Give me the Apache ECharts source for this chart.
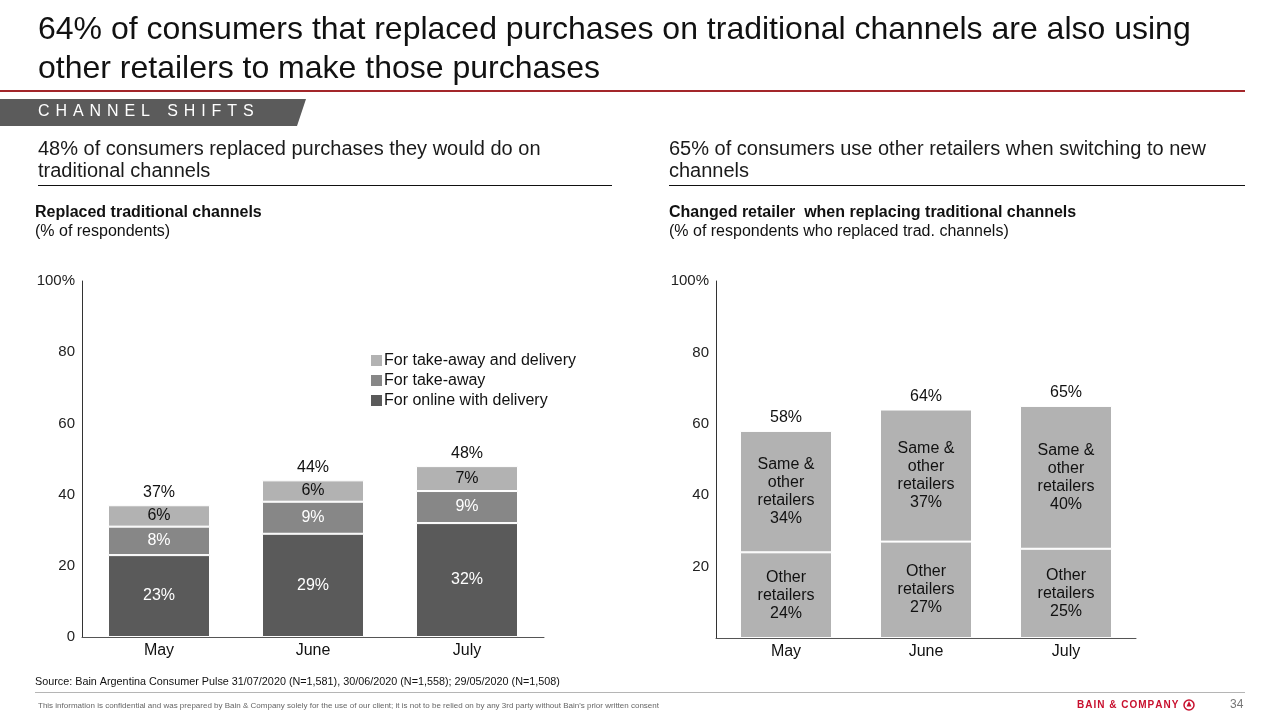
<!DOCTYPE html>
<html><head><meta charset="utf-8">
<script src="https://cdn.jsdelivr.net/npm/echarts@6/dist/echarts.min.js"></script>
<style>html,body{margin:0;padding:0;background:#fff}#c{width:1280px;height:720px}</style>
</head><body><div id="c"></div>
<script>
const FONT = "'Liberation Sans', Arial, Helvetica, sans-serif";
// ---- data ----
const months = ['May', 'June', 'July'];
const leftSeriesNames = ['For online with delivery', 'For take-away', 'For take-away and delivery'];
const onlineDelivery = [23, 29, 32];
const takeAway = [8, 9, 9];
const takeAwayDelivery = [6, 6, 7];
const leftTotals = [37, 44, 48];
const rightSeriesLabels = ['Other\nretailers', 'Same &\nother\nretailers'];
const otherRetailers = [24, 27, 25];
const sameOther = [34, 37, 40];
const rightTotals = [58, 64, 65];
const yTicks = [0, 20, 40, 60, 80, 100];

const C_DARK = '#5a5a5a', C_MID = '#878787', C_LIGHT = '#b2b2b2';

const chart = echarts.init(document.getElementById('c'), null, {renderer: 'canvas'});

// letter-spaced tab text
const ctx = document.createElement('canvas').getContext('2d');
ctx.font = '16px ' + FONT;
const tabText = 'CHANNEL SHIFTS';
const tabEls = [];
let tx = 38;
for (const ch of tabText) {
  tabEls.push({type: 'text', left: tx, top: 104, style: {text: ch, fill: '#fff', font: '16px ' + FONT}});
  tx += ctx.measureText(ch).width + (ch === ' ' ? 7 : 5.9);
}
ctx.font = 'bold 10px ' + FONT;
const logoEls = [];
let lx = 1077;
for (const ch of 'BAIN & COMPANY') {
  logoEls.push({type: 'text', left: lx, top: 700, style: {text: ch, fill: '#c8102e', font: 'bold 10px ' + FONT}});
  lx += ctx.measureText(ch).width + 1.0;
}

const yLabel = v => (v === 100 ? '100%' : String(v));

const axisCommonY = (gi, showZero) => ({
  type: 'value', gridIndex: gi, min: 0, max: 100, interval: 20,
  splitLine: {show: false}, axisTick: {show: false},
  axisLine: {show: true, lineStyle: {color: '#333', width: 1}},
  axisLabel: {color: '#222', fontSize: 15, fontFamily: FONT, margin: 7, padding: [4, 0, 0, 0],
    formatter: v => (!showZero && v === 0 ? '' : yLabel(v))}
});
const axisCommonX = gi => ({
  type: 'category', gridIndex: gi, data: months,
  axisTick: {show: false},
  axisLine: {show: true, lineStyle: {color: '#555', width: 1}},
  axisLabel: {color: '#111', fontSize: 16, fontFamily: FONT, margin: 6}
});

const segLabel = (color) => ({show: true, position: 'inside', color: color, fontSize: 16, fontFamily: FONT, formatter: p => p.value + '%'});

const option = {
  animation: false,
  textStyle: {fontFamily: FONT},
  grid: [
    {left: 82, top: 281, width: 462, height: 356},
    {left: 716, top: 281, width: 420, height: 357}
  ],
  xAxis: [axisCommonX(0), axisCommonX(1)],
  yAxis: [axisCommonY(0, true), axisCommonY(1, false)],
  legend: {
    data: [leftSeriesNames[2], leftSeriesNames[1], leftSeriesNames[0]],
    orient: 'vertical', left: 369, top: 352, padding: 0, itemWidth: 13, itemHeight: 13, itemGap: 3,
    icon: 'rect', textStyle: {fontSize: 16, lineHeight: 17, color: '#111', fontFamily: FONT, padding: [0, 0, 0, -4]}
  },
  series: [
    {name: leftSeriesNames[0], type: 'bar', stack: 'L', xAxisIndex: 0, yAxisIndex: 0, barWidth: 102,
      data: onlineDelivery, itemStyle: {color: C_DARK, borderColor: '#fff', borderWidth: 1}, label: segLabel('#fff')},
    {name: leftSeriesNames[1], type: 'bar', stack: 'L', xAxisIndex: 0, yAxisIndex: 0, barWidth: 102,
      data: takeAway, itemStyle: {color: C_MID, borderColor: '#fff', borderWidth: 1}, label: segLabel('#fff')},
    {name: leftSeriesNames[2], type: 'bar', stack: 'L', xAxisIndex: 0, yAxisIndex: 0, barWidth: 102,
      data: takeAwayDelivery, itemStyle: {color: C_LIGHT, borderColor: '#fff', borderWidth: 1}, label: segLabel('#111')},
    {name: 'totalL', type: 'bar', xAxisIndex: 0, yAxisIndex: 0, barWidth: 102, barGap: '-100%', z: 1,
      data: leftTotals, itemStyle: {color: 'rgba(0,0,0,0)'}, silent: true,
      label: {show: true, position: 'top', distance: 5, color: '#111', fontSize: 16, fontFamily: FONT, formatter: p => p.value + '%'}},
    {name: 'Other retailers', type: 'bar', stack: 'R', xAxisIndex: 1, yAxisIndex: 1, barWidth: 92,
      data: otherRetailers, itemStyle: {color: C_LIGHT, borderColor: '#fff', borderWidth: 1},
      label: {show: true, position: 'inside', color: '#111', fontSize: 16, lineHeight: 18, fontFamily: FONT,
        formatter: p => rightSeriesLabels[0] + '\n' + p.value + '%'}},
    {name: 'Same & other retailers', type: 'bar', stack: 'R', xAxisIndex: 1, yAxisIndex: 1, barWidth: 92,
      data: sameOther, itemStyle: {color: C_LIGHT, borderColor: '#fff', borderWidth: 1},
      label: {show: true, position: 'inside', color: '#111', fontSize: 16, lineHeight: 18, fontFamily: FONT,
        formatter: p => rightSeriesLabels[1] + '\n' + p.value + '%'}},
    {name: 'totalR', type: 'bar', xAxisIndex: 1, yAxisIndex: 1, barWidth: 92, barGap: '-100%', z: 1,
      data: rightTotals, itemStyle: {color: 'rgba(0,0,0,0)'}, silent: true,
      label: {show: true, position: 'top', distance: 5, color: '#111', fontSize: 16, fontFamily: FONT, formatter: p => p.value + '%'}}
  ],
  graphic: [
    {type: 'text', left: 38, top: 14, style: {text: '64% of consumers that replaced purchases on traditional channels are also using', fill: '#111', font: '32px ' + FONT}},
    {type: 'text', left: 38, top: 53, style: {text: 'other retailers to make those purchases', fill: '#111', font: '32px ' + FONT}},
    {type: 'rect', shape: {x: 0, y: 90, width: 1245, height: 2}, style: {fill: '#a3262a'}},
    {type: 'polygon', shape: {points: [[0, 99], [306, 99], [297, 126], [0, 126]]}, style: {fill: '#5b5b5b'}},
    ...tabEls,
    {type: 'text', left: 38, top: 139, style: {text: '48% of consumers replaced purchases they would do on', fill: '#1a1a1a', font: '20px ' + FONT}},
    {type: 'text', left: 38, top: 161, style: {text: 'traditional channels', fill: '#1a1a1a', font: '20px ' + FONT}},
    {type: 'rect', shape: {x: 38, y: 185, width: 574, height: 1}, style: {fill: '#111'}},
    {type: 'text', left: 669, top: 139, style: {text: '65% of consumers use other retailers when switching to new', fill: '#1a1a1a', font: '20px ' + FONT}},
    {type: 'text', left: 669, top: 161, style: {text: 'channels', fill: '#1a1a1a', font: '20px ' + FONT}},
    {type: 'rect', shape: {x: 669, y: 185, width: 576, height: 1}, style: {fill: '#111'}},
    {type: 'text', left: 35, top: 205, style: {text: 'Replaced traditional channels', fill: '#111', font: 'bold 16px ' + FONT}},
    {type: 'text', left: 35, top: 224, style: {text: '(% of respondents)', fill: '#111', font: '16px ' + FONT}},
    {type: 'text', left: 669, top: 205, style: {text: 'Changed retailer  when replacing traditional channels', fill: '#111', font: 'bold 16px ' + FONT}},
    {type: 'text', left: 669, top: 224, style: {text: '(% of respondents who replaced trad. channels)', fill: '#111', font: '16px ' + FONT}},
    {type: 'text', left: 35, top: 677, style: {text: 'Source: Bain Argentina Consumer Pulse 31/07/2020 (N=1,581), 30/06/2020 (N=1,558); 29/05/2020 (N=1,508)', fill: '#111', font: '10.8px ' + FONT}},
    {type: 'rect', shape: {x: 35, y: 692, width: 1210, height: 1}, style: {fill: '#b5b5b5'}},
    {type: 'text', left: 38, top: 702, style: {text: "This information is confidential and was prepared by Bain & Company solely for the use of our client; it is not to be relied on by any 3rd party without Bain's prior written consent", fill: '#666', font: '8px ' + FONT}},
    ...logoEls,
    {type: 'circle', shape: {cx: 1189, cy: 705, r: 5}, style: {fill: 'none', stroke: '#c8102e', lineWidth: 1.5}},
    {type: 'polygon', shape: {points: [[1189, 701], [1186.5, 706.5], [1191.5, 706.5]]}, style: {fill: '#c8102e'}},
    {type: 'text', left: 1230, top: 699, style: {text: '34', fill: '#777', font: '12px ' + FONT}}
  ]
};
chart.setOption(option);
</script>
</body></html>
